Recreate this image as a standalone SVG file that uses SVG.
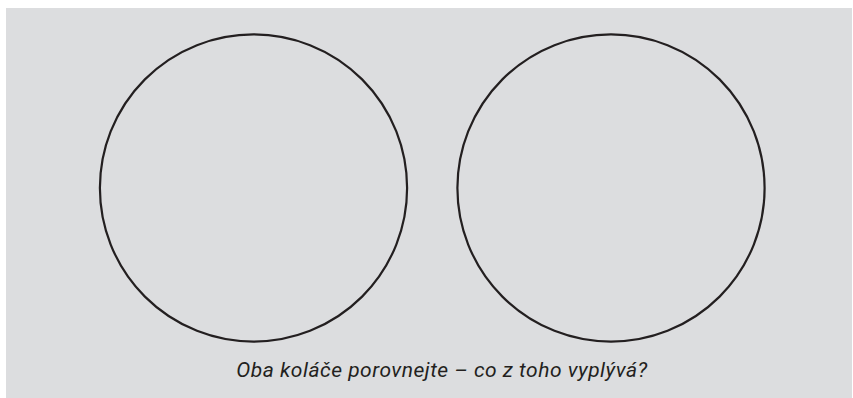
<svg xmlns="http://www.w3.org/2000/svg" width="853" height="398" viewBox="0 0 853 398">
<style>
.pie{fill:none;stroke:#231f20;stroke-width:2.2}
.cap{font-family:Roboto,"Liberation Sans",sans-serif;font-style:italic;font-size:21px;letter-spacing:0.5px;fill:#231f20}
</style>
<rect x="0" y="0" width="853" height="398" fill="#ffffff"/>
<rect x="6" y="8" width="846" height="390" fill="#dcdddf"/>
<g id="pie-left"><circle class="pie" cx="253.5" cy="188" r="153.6"/></g>
<g id="pie-right"><circle class="pie" cx="611" cy="188" r="153.6"/></g>
<g id="connectors"/>
<g id="caption"><text class="cap" x="442" y="377" text-anchor="middle">Oba koláče porovnejte – co z toho vyplývá?</text></g>
</svg>
